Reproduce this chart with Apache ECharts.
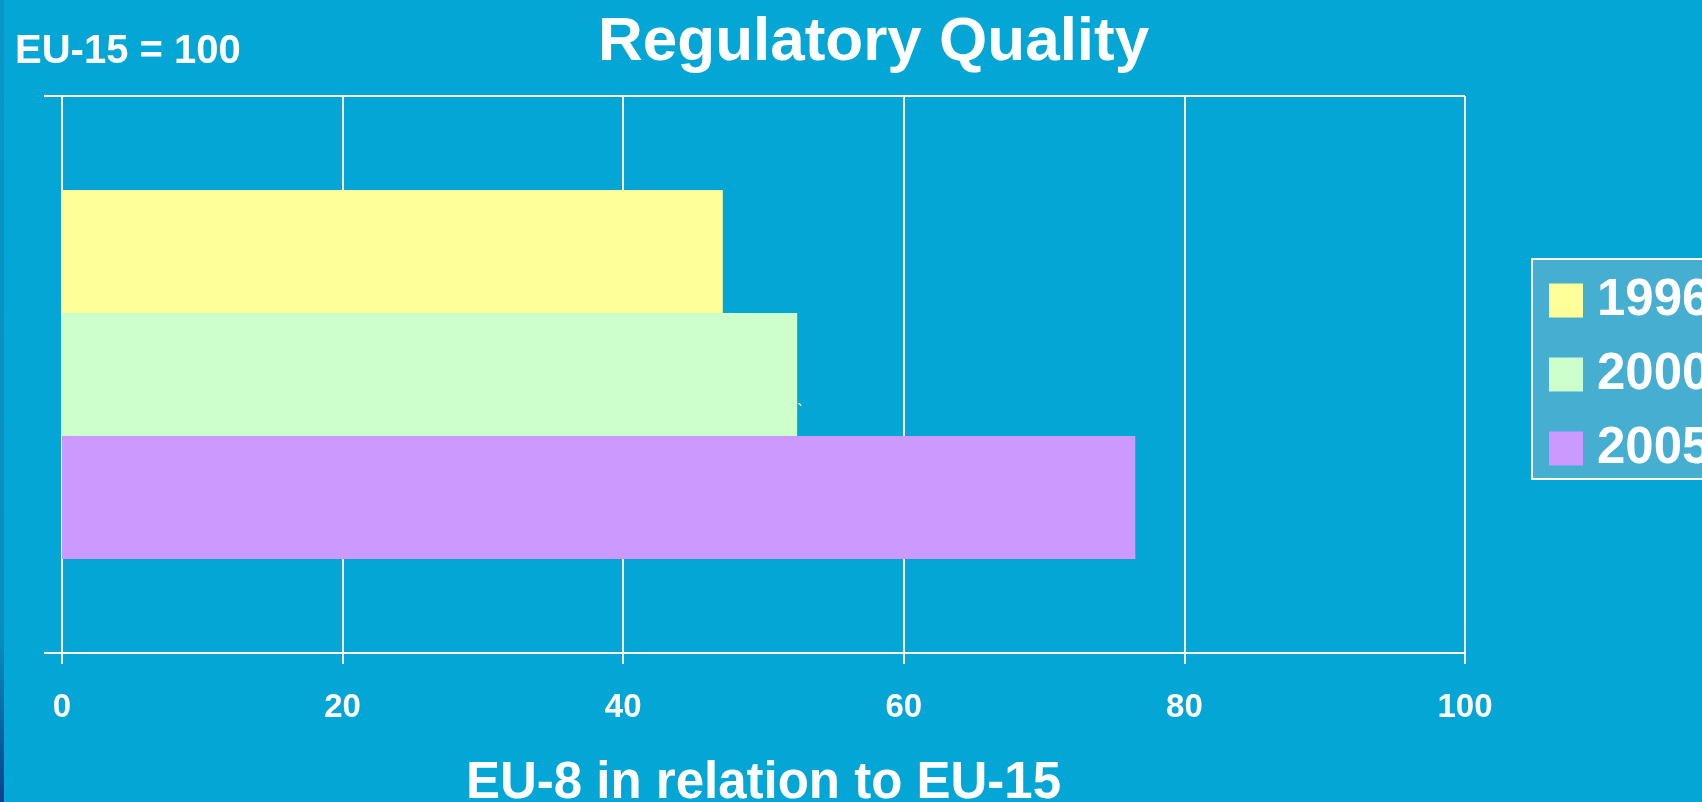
<!DOCTYPE html>
<html>
<head>
<meta charset="utf-8">
<script src="https://cdn.jsdelivr.net/npm/echarts@6/dist/echarts.min.js"></script>
<style>
  html, body { margin: 0; padding: 0; background: #03a6d4; }
  #chart { width: 1702px; height: 802px; }
</style>
</head>
<body>
<div id="chart"></div>
<script>
// data
var categories = ['EU-8']
var years = ['1996', '2000', '2005']
var values1996 = [47.1]
var values2000 = [52.4]
var values2005 = [76.5]
var xTicks = [0, 20, 40, 60, 80, 100]

var FONT = '"Liberation Sans", Arial, sans-serif'
var colors = ['#ffff99', '#ccffcc', '#cc99ff']
var seriesValues = [values1996, values2000, values2005]

var chart = echarts.init(document.getElementById('chart'))

chart.setOption({
  backgroundColor: '#03a6d4',
  animation: false,
  textStyle: { fontFamily: FONT },
  graphic: [
    {
      type: 'rect',
      shape: { x: 0, y: 0, width: 4, height: 802 },
      style: {
        fill: new echarts.graphic.LinearGradient(0, 0, 0, 1, [
          { offset: 0, color: '#0897c8' },
          { offset: 0.8, color: '#0a8cc0' },
          { offset: 1, color: '#0b3f8e' }
        ])
      },
      silent: true
    },
    {
      type: 'text',
      left: 15,
      top: 32,
      style: { text: 'EU-15 = 100', fill: '#fff', font: 'bold 40px ' + FONT }
    },
    {
      type: 'text',
      left: 598,
      top: 12,
      style: { text: 'Regulatory Quality', fill: '#fff', font: 'bold 62px ' + FONT }
    },
    {
      type: 'text',
      left: 797,
      top: 403,
      style: { text: '`', fill: '#fff', font: '18px ' + FONT }
    }
  ],
  legend: {
    data: years,
    orient: 'vertical',
    left: 1532,
    top: 259,
    icon: 'rect',
    itemWidth: 34,
    itemHeight: 34,
    itemGap: 23,
    padding: [16, 40, 5, 17],
    backgroundColor: '#45aed1',
    borderColor: '#ffffff',
    borderWidth: 2,
    textStyle: { color: '#fff', fontSize: 51, fontWeight: 'bold', fontFamily: FONT, padding: [0, 0, 0, 9] }
  },
  grid: { left: 62, top: 96, width: 1403, height: 557, containLabel: false, outerBoundsMode: 'none' },
  xAxis: {
    type: 'value',
    min: xTicks[0],
    max: xTicks[xTicks.length - 1],
    interval: xTicks[1] - xTicks[0],
    name: 'EU-8 in relation to EU-15',
    nameLocation: 'middle',
    nameGap: 105,
    nameTextStyle: { color: '#fff', fontSize: 51, fontWeight: 'bold', fontFamily: FONT },
    axisLine: { show: true, lineStyle: { color: '#fff', width: 2 } },
    axisTick: { show: true, length: 11, lineStyle: { color: '#fff', width: 2 } },
    axisLabel: { color: '#fff', fontSize: 33, fontWeight: 'bold', margin: 38, fontFamily: FONT },
    splitLine: { show: true, lineStyle: { color: '#fff', width: 2 } }
  },
  yAxis: {
    type: 'category',
    data: categories,
    axisLine: { show: true, lineStyle: { color: '#fff', width: 2 } },
    axisTick: { show: true, length: 18, lineStyle: { color: '#fff', width: 2 } },
    axisLabel: { show: false },
    splitLine: { show: true, lineStyle: { color: '#fff', width: 2 } }
  },
  series: years.map(function (y, i) {
    return {
      name: y,
      type: 'bar',
      data: seriesValues[i],
      barWidth: 123,
      barGap: '0%',
      itemStyle: { color: colors[i] }
    }
  })
})
</script>
</body>
</html>
